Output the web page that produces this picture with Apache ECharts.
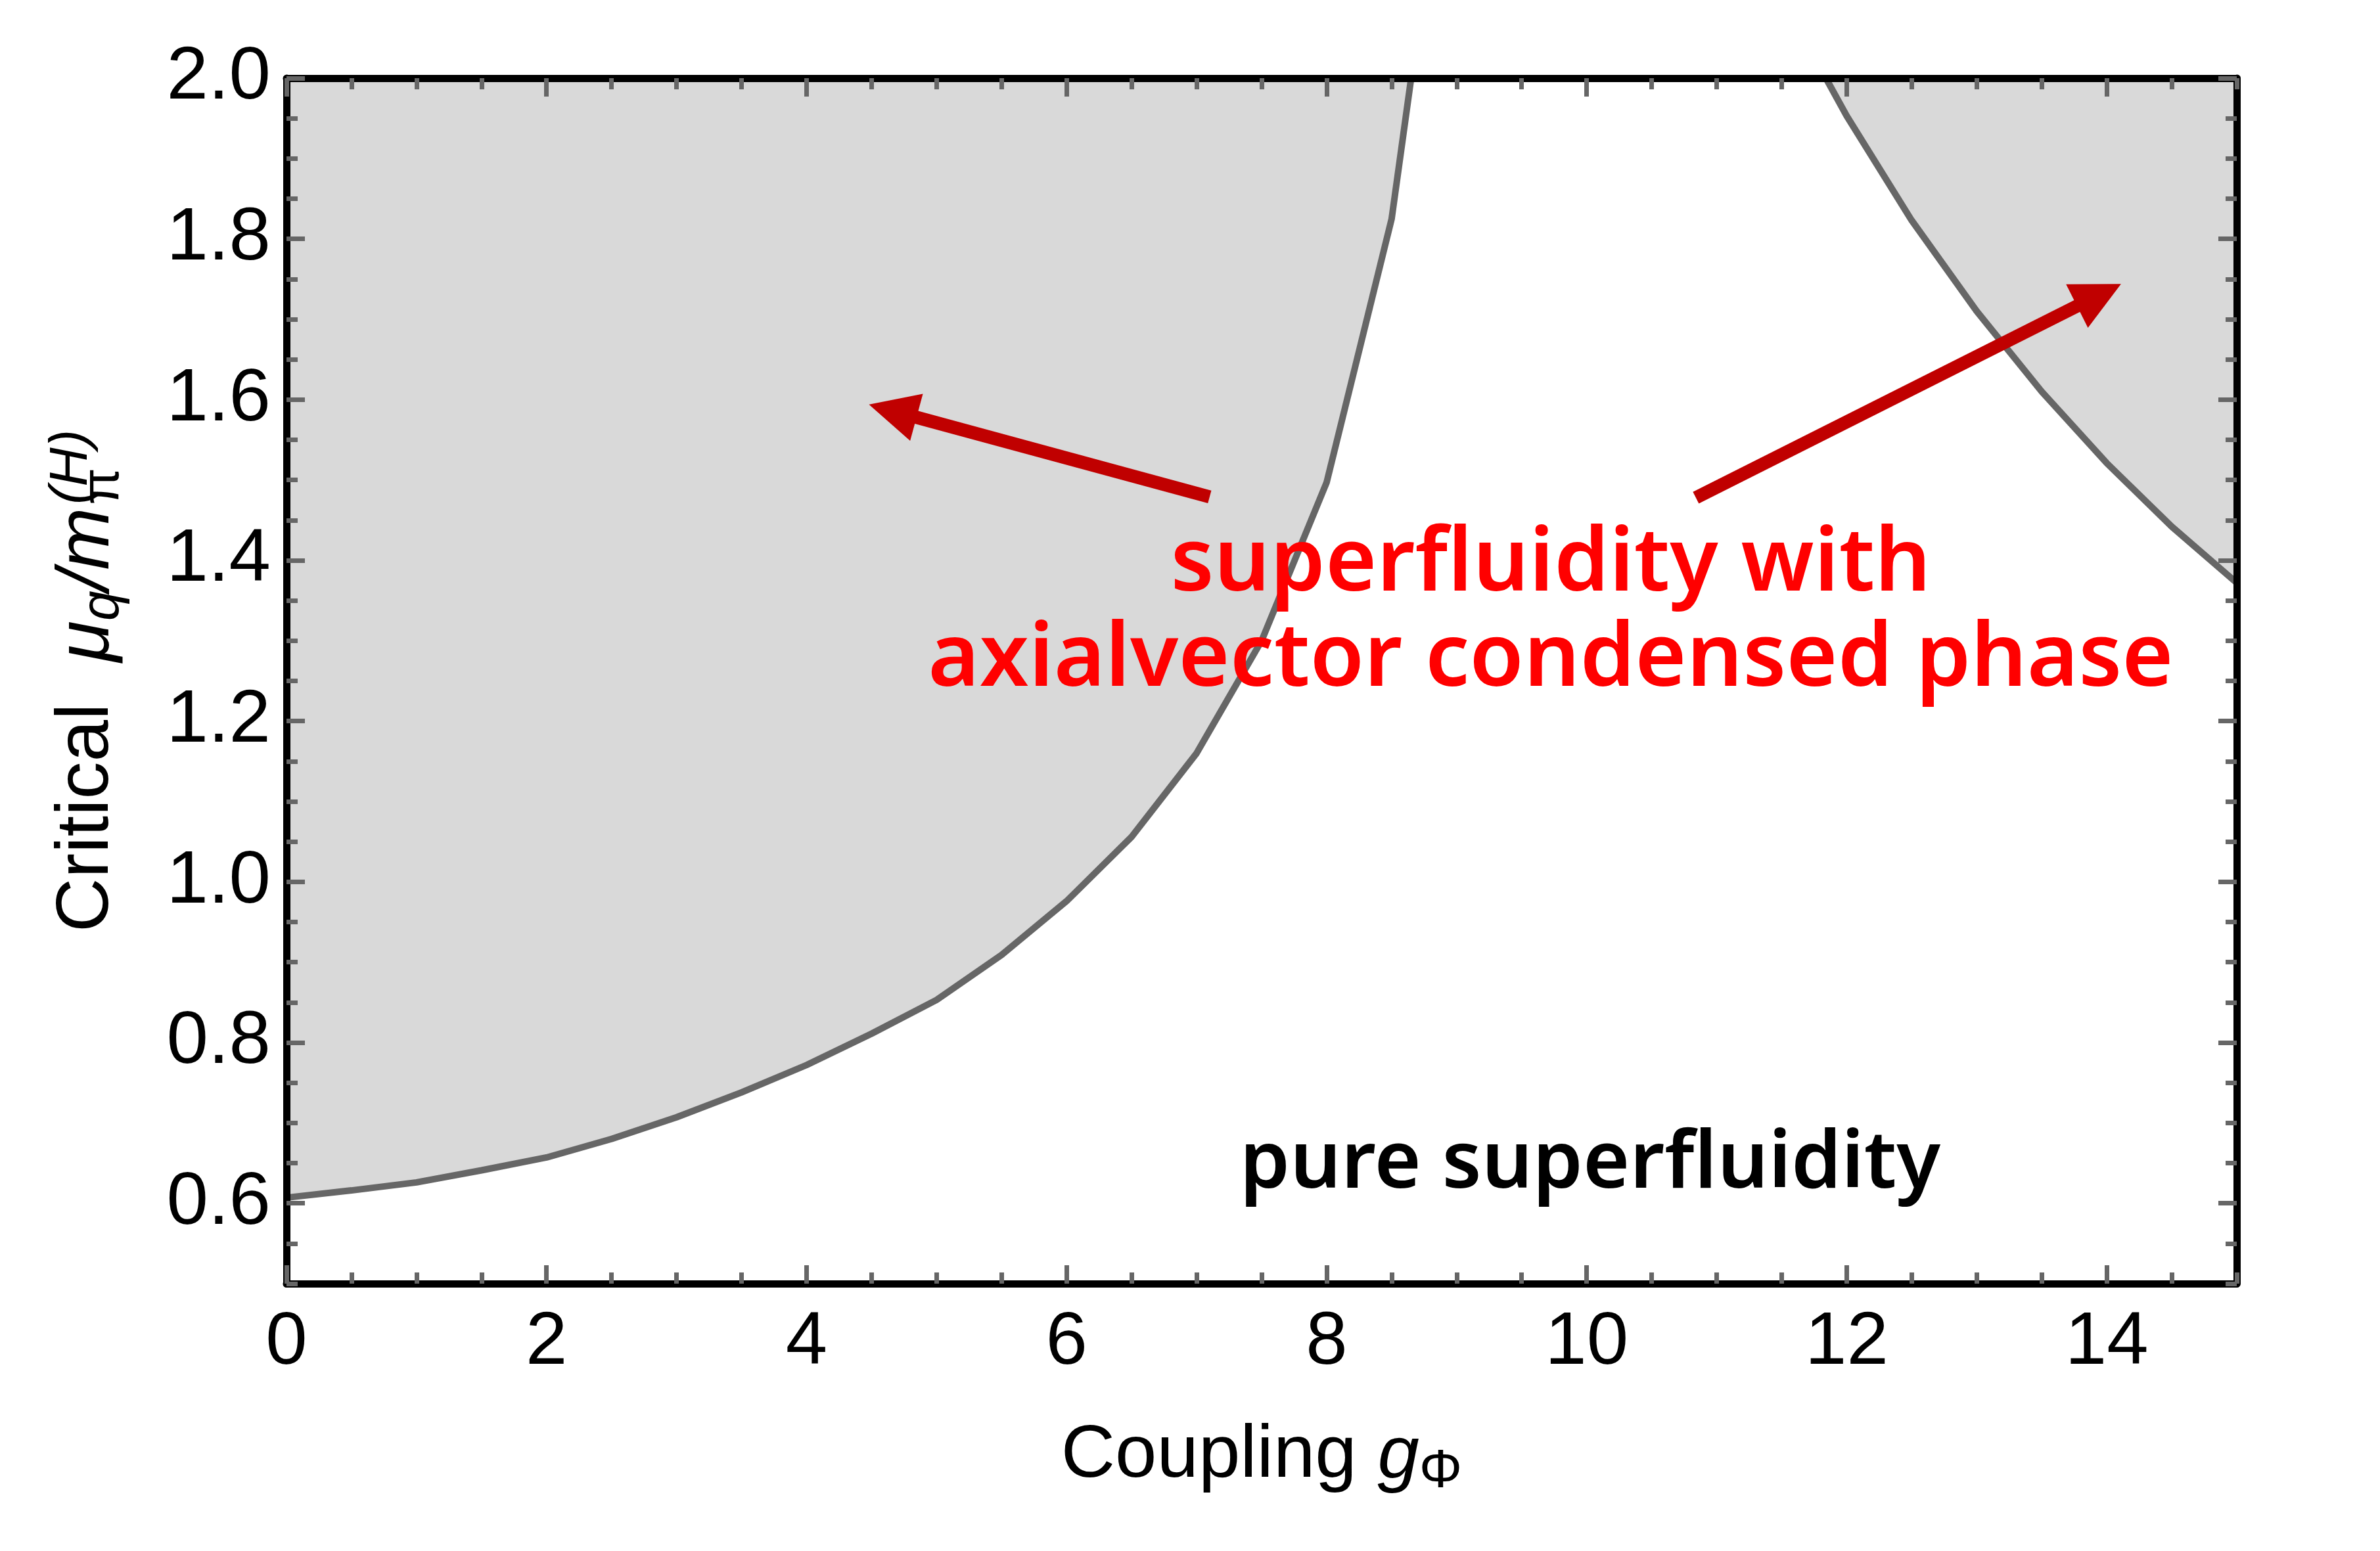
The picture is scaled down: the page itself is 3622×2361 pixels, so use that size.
<!DOCTYPE html>
<html><head><meta charset="utf-8">
<script src="https://cdn.jsdelivr.net/npm/echarts@6/dist/echarts.min.js"></script>
<style>html,body{margin:0;padding:0;background:#fff}#c{width:3622px;height:2361px}</style>
</head><body><div id="c"></div>
<script>
// ---- data ----
const leftCurveX = [0, 0.5, 1, 1.5, 2, 2.5, 3, 3.5, 4, 4.5, 5, 5.5, 6, 6.5, 7, 7.5, 8, 8.5, 8.65];
const leftCurveY = [0.607, 0.616, 0.626, 0.641, 0.657, 0.680, 0.707, 0.738, 0.772, 0.811, 0.853, 0.909, 0.976, 1.056, 1.160, 1.300, 1.497, 1.825, 2.0];
const rightCurveX = [11.84, 12, 12.5, 13, 13.5, 14, 14.5, 15];
const rightCurveY = [2.0, 1.953, 1.823, 1.710, 1.610, 1.521, 1.442, 1.372];
const arrowFrom = [[7.10, 1.479], [10.84, 1.478]];
const arrowTo = [[4.48, 1.594], [14.11, 1.744]];
const xTickLabels = [0, 2, 4, 6, 8, 10, 12, 14];
const yTickLabels = [0.6, 0.8, 1.0, 1.2, 1.4, 1.6, 1.8, 2.0];
const redText = 'superfluidity with\naxialvector condensed phase';
const blackText = 'pure superfluidity';

const FONT = 'Liberation Sans';
const TICK = '#666666';
const chart = echarts.init(document.getElementById('c'), null, {renderer: 'canvas'});

function minorAxis(pos, isX) {
  return {
    type: 'value', position: pos, min: isX ? 0 : 0.5, max: isX ? 15 : 2,
    interval: isX ? 0.5 : 0.05, z: 10,
    axisLine: {show: true, onZero: false, lineStyle: {color: '#000', width: 11}},
    axisTick: {show: true, inside: true, length: 17, lineStyle: {color: TICK, width: 7}},
    axisLabel: {show: false}, splitLine: {show: false}
  };
}
function majorAxis(pos, isX, withLabels) {
  const vals = isX ? xTickLabels : yTickLabels;
  return {
    type: 'value', position: pos, min: isX ? 0 : 0.5, max: isX ? 15 : 2, z: 11,
    axisLine: {show: false, onZero: false},
    axisTick: {show: true, inside: true, length: 28, customValues: vals, lineStyle: {color: TICK, width: 7}},
    axisLabel: withLabels ? {
      show: true, customValues: vals, fontFamily: FONT, fontSize: 114, color: '#000',
      margin: isX ? 34 : 24,
      formatter: v => isX ? String(v) : Number(v).toFixed(1)
    } : {show: false},
    splitLine: {show: false}
  };
}

const xMain = majorAxis('bottom', true, true);
xMain.name = '{t|Coupling }{g|g}{s|Φ}';
xMain.nameLocation = 'middle';
xMain.nameGap = 198;
xMain.nameTextStyle = {
  rich: {
    t: {fontFamily: FONT, fontSize: 114, lineHeight: 130, color: '#000'},
    g: {fontFamily: FONT, fontSize: 114, lineHeight: 130, fontStyle: 'italic', color: '#000'},
    s: {fontFamily: FONT, fontSize: 82, lineHeight: 60, verticalAlign: 'bottom', color: '#000'}
  }
};
const yMain = majorAxis('left', false, true);
yMain.name = '{t|Critical  }{i|μ}{s|q}{i|/m}{p|π}{h|(H)}';
yMain.nameLocation = 'middle';
yMain.nameGap = 238;
yMain.nameRotate = 90;
yMain.nameTextStyle = {
  rich: {
    t: {fontFamily: FONT, fontSize: 114, lineHeight: 130, align: 'left', color: '#000'},
    i: {fontFamily: FONT, fontSize: 114, lineHeight: 130, align: 'left', fontStyle: 'italic', color: '#000'},
    s: {fontFamily: FONT, fontSize: 82, lineHeight: 64, verticalAlign: 'bottom', align: 'left', fontStyle: 'italic', color: '#000'},
    p: {fontFamily: FONT, fontSize: 82, lineHeight: 48, verticalAlign: 'bottom', width: 1, align: 'left', padding: [0, 0, 0, 4], color: '#000'},
    h: {fontFamily: FONT, fontSize: 82, lineHeight: 28, verticalAlign: 'top', align: 'left', fontStyle: 'italic', color: '#000'}
  }
};

const option = {
  backgroundColor: '#fff',
  animation: false,
  grid: {left: 436, right: 218, top: 119, bottom: 407},
  xAxis: [minorAxis('bottom', true), xMain, minorAxis('top', true), majorAxis('top', true, false)],
  yAxis: [minorAxis('left', false), yMain, minorAxis('right', false), majorAxis('right', false, false)],
  series: [
    {
      type: 'line', xAxisIndex: 0, yAxisIndex: 0, symbol: 'none', z: 2,
      data: leftCurveX.map((x, i) => [x, leftCurveY[i]]),
      lineStyle: {color: '#666666', width: 10},
      areaStyle: {color: '#d9d9d9', opacity: 1, origin: 'end'}
    },
    {
      type: 'line', xAxisIndex: 0, yAxisIndex: 0, symbol: 'none', z: 2,
      data: rightCurveX.map((x, i) => [x, rightCurveY[i]]),
      lineStyle: {color: '#666666', width: 10},
      areaStyle: {color: '#d9d9d9', opacity: 1, origin: 'end'}
    },
    {
      type: 'custom', xAxisIndex: 0, yAxisIndex: 0, z: 5,
      data: arrowFrom.map((f, i) => [f[0], f[1], arrowTo[i][0], arrowTo[i][1]]),
      encode: {x: [0, 2], y: [1, 3]},
      renderItem: function (params, api) {
        const p0 = api.coord([api.value(0), api.value(1)]);
        const p1 = api.coord([api.value(2), api.value(3)]);
        const dx = p1[0] - p0[0], dy = p1[1] - p0[1];
        const len = Math.sqrt(dx * dx + dy * dy);
        const ux = dx / len, uy = dy / len;
        const L = 75, W = 37;
        const bx = p1[0] - ux * L, by = p1[1] - uy * L;
        const nx = -uy, ny = ux;
        return {
          type: 'group',
          children: [
            {type: 'line', shape: {x1: p0[0], y1: p0[1], x2: bx + ux * 4, y2: by + uy * 4},
             style: {stroke: '#c00000', lineWidth: 20, lineCap: 'butt'}},
            {type: 'polygon', shape: {points: [[p1[0], p1[1]], [bx + nx * W, by + ny * W], [bx - nx * W, by - ny * W]]},
             style: {fill: '#c00000'}}
          ]
        };
      }
    }
  ],
  graphic: [
    {type: 'text', x: 2360, y: 933, z: 100,
     style: {text: redText, fill: '#ff0000', font: '600 134px "Noto Sans"', align: 'center', verticalAlign: 'middle', lineHeight: 145}},
    {type: 'text', x: 2420, y: 1773, z: 100,
     style: {text: blackText, fill: '#000', font: '600 122px "Noto Sans"', align: 'center', verticalAlign: 'middle'}}
  ]
};
chart.setOption(option);
</script>
</body></html>
